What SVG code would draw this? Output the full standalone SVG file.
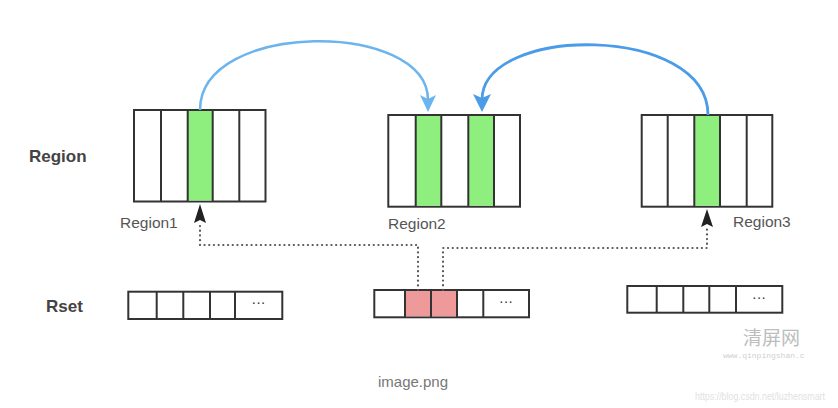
<svg xmlns="http://www.w3.org/2000/svg" width="838" height="408" viewBox="0 0 838 408">
<style>
.cell{fill:#fff;stroke:#333;stroke-width:2}
.g{fill:#8eef7e}
.p{fill:#ef9a9a}
.lbl{font-family:"Liberation Sans",Arial,sans-serif;font-size:15.5px;fill:#555}
.side{font-family:"Liberation Sans",Arial,sans-serif;font-size:17px;font-weight:bold;fill:#444}
.dots{font-family:"Liberation Sans",Arial,sans-serif;font-size:14px;fill:#333;text-anchor:middle}
.dot{fill:none;stroke:#555;stroke-width:2.2;stroke-dasharray:0.1 4.6;stroke-linecap:round}
.head{fill:#222}
</style>
<rect width="838" height="408" fill="#fff"/>

<text class="side" x="29" y="162">Region</text>
<text class="side" x="46" y="312">Rset</text>

<g id="region1">
<rect class="cell" x="134" y="110" width="131.5" height="91.5"/>
<rect class="g" x="187.7" y="111" width="25" height="89.5"/>
<path d="M161,110V201.5M187.7,110V201.5M212.7,110V201.5M239.3,110V201.5" stroke="#333" stroke-width="2"/>
<text class="lbl" x="120" y="228">Region1</text>
</g>

<g id="region2">
<rect class="cell" x="388.3" y="115" width="131.7" height="91.7"/>
<rect class="g" x="415.7" y="116" width="25.6" height="89.7"/>
<rect class="g" x="468.3" y="116" width="25.7" height="89.7"/>
<path d="M415.7,115V206.7M441.3,115V206.7M468.3,115V206.7M494,115V206.7" stroke="#333" stroke-width="2"/>
<text class="lbl" x="388" y="229">Region2</text>
</g>

<g id="region3">
<rect class="cell" x="641.7" y="115" width="130.6" height="91.7"/>
<rect class="g" x="694.3" y="116" width="25.7" height="89.7"/>
<path d="M667.7,115V206.7M694.3,115V206.7M720,115V206.7M746.7,115V206.7" stroke="#333" stroke-width="2"/>
<text class="lbl" x="733" y="227">Region3</text>
</g>

<g id="rset1">
<rect class="cell" x="128.3" y="291.7" width="154" height="27.3"/>
<path d="M156.7,291.7V319M183.3,291.7V319M210,291.7V319M235,291.7V319" stroke="#333" stroke-width="2"/>
<text class="dots" x="258.5" y="307">···</text>
</g>

<g id="rset2">
<rect class="cell" x="374.3" y="290" width="154.7" height="27.3"/>
<rect class="p" x="405" y="291" width="52" height="25.3"/>
<path d="M405,290V317.3M431,290V317.3M457,290V317.3M483.3,290V317.3" stroke="#333" stroke-width="2"/>
<text class="dots" x="506" y="305.5">···</text>
</g>

<g id="rset3">
<rect class="cell" x="627.3" y="286" width="155" height="26.7"/>
<path d="M656.7,286V312.7M683.3,286V312.7M709.3,286V312.7M736,286V312.7" stroke="#333" stroke-width="2"/>
<text class="dots" x="759" y="301.5">···</text>
</g>

<g id="connectors">
<path d="M200,110 C200,20 428,20 428,100" fill="none" stroke="#6cb4ee" stroke-width="2.5"/>
<path d="M420,95 L428,112 L436,95 L428,99 Z" fill="#6cb4ee"/>
<path d="M708,115 C708,24 482,24 482,100" fill="none" stroke="#4a9be8" stroke-width="2.8"/>
<path d="M473,94 L482,112 L491,94 L482,98 Z" fill="#4a9be8"/>
<path class="dot" d="M200,226 V245 H418 V290"/>
<path class="head" d="M200,204 L206,223 L200,220 L194,223 Z"/>
<path class="dot" d="M443,290 V248 H707 V228"/>
<path class="head" d="M707,209 L713,227 L707,224 L701,227 Z"/>
</g>

<text x="743" y="345" font-family="'Noto Sans CJK SC',sans-serif" font-size="19" fill="#bdbdbd">清屏网</text>
<text x="723" y="358" font-family="'Liberation Mono',monospace" font-size="8" fill="#cfcfcf">www.qinpingshan.c</text>
<text x="378" y="387" font-family="'Liberation Sans',Arial,sans-serif" font-size="15" fill="#777">image.png</text>
<text x="695" y="400" font-family="'Liberation Sans',Arial,sans-serif" font-size="10" fill="#e2e2e2" textLength="130" lengthAdjust="spacingAndGlyphs">https://blog.csdn.net/luzhensmart</text>
</svg>
